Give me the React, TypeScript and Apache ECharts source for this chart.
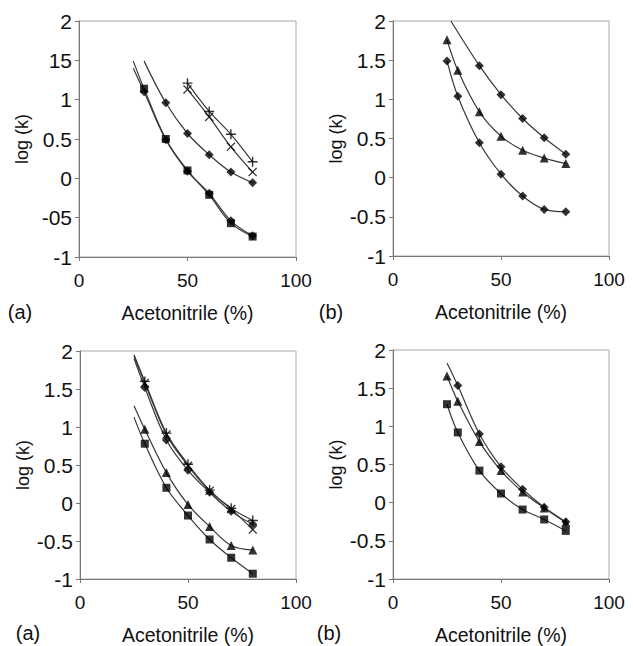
import React, { useEffect, useRef } from "react";
import * as echarts from "echarts";

// ---------- data ----------
const yTicksOdd = ["-1", "-05", "0", "0.5", "1", "15", "2"]; // top-left panel as printed
const yTicksStd = ["-1", "-0.5", "0", "0.5", "1", "1.5", "2"];
const xTicks = ["0", "50", "100"];
const panelLabels = ["(a)", "(b)", "(a)", "(b)"];
const xName = "Acetonitrile (%)";
const yName = "log (k)";

// Panel 1 (top-left)
const p1X6 = [30, 40, 50, 60, 70, 80];
const p1X5 = [40, 50, 60, 70, 80];
const p1X4 = [50, 60, 70, 80];
const p1Square = [1.14, 0.5, 0.1, -0.21, -0.57, -0.74];
const p1Square2 = [1.1, 0.49, 0.09, -0.19, -0.54, -0.73];
const p1Diamond = [0.96, 0.57, 0.3, 0.08, -0.055];
const p1Plus = [1.21, 0.85, 0.56, 0.21];
const p1Cross = [1.13, 0.78, 0.4, 0.08];
const p1SquareStart: [number, number] = [25, 1.49];
const p1Square2Start: [number, number] = [25, 1.4];
const p1DiamondStart: [number, number] = [30, 1.49];

// Panel 2 (top-right)
const p2X7 = [25, 30, 40, 50, 60, 70, 80];
const p2X5 = [40, 50, 60, 70, 80];
const p2DiamondHigh = [1.43, 1.06, 0.755, 0.51, 0.3];
const p2DiamondHighStart: [number, number] = [26.8, 2.0];
const p2Triangle = [1.76, 1.37, 0.84, 0.53, 0.35, 0.25, 0.18];
const p2DiamondLow = [1.49, 1.04, 0.445, 0.045, -0.235, -0.405, -0.435];

// Panel 3 (bottom-left)
const p3X6 = [30, 40, 50, 60, 70, 80];
const p3Diamond = [1.52, 0.83, 0.43, 0.14, -0.11, -0.28];
const p3Cross = [1.58, 0.9, 0.49, 0.16, -0.08, -0.35];
const p3Plus = [1.6, 0.92, 0.51, 0.17, -0.07, -0.23];
const p3Triangle = [0.97, 0.4, -0.02, -0.31, -0.56, -0.62];
const p3Square = [0.78, 0.2, -0.165, -0.48, -0.72, -0.93];
const p3DiamondStart: [number, number] = [25, 1.9];
const p3CrossStart: [number, number] = [25, 1.93];
const p3PlusStart: [number, number] = [25, 1.95];
const p3TriangleStart: [number, number] = [25, 1.28];
const p3SquareStart: [number, number] = [25, 1.13];

// Panel 4 (bottom-right)
const p4X7 = [25, 30, 40, 50, 60, 70, 80];
const p4X6 = [30, 40, 50, 60, 70, 80];
const p4Diamond = [1.535, 0.9, 0.47, 0.175, -0.06, -0.25];
const p4DiamondStart: [number, number] = [25, 1.83];
const p4Triangle = [1.66, 1.33, 0.8, 0.42, 0.14, -0.07, -0.26];
const p4Square = [1.29, 0.92, 0.42, 0.12, -0.09, -0.22, -0.37];

// ---------- styling ----------
const FONT = "'Liberation Sans', Arial, Helvetica, sans-serif";
const PLUS = "path://M4.3,0H5.7V4.3H10V5.7H5.7V10H4.3V5.7H0V4.3H4.3Z";
const CROSS = "path://M1,0L5,4L9,0L10,1L6,5L10,9L9,10L5,6L1,10L0,9L4,5L0,1Z";

type Def = {
  x: number[];
  y: number[];
  symbol: string;
  size: number;
  start?: [number, number];
};

const grids = [
  { left: 79, top: 21, width: 217, height: 236 },
  { left: 393, top: 21, width: 216, height: 235 },
  { left: 80, top: 351, width: 216, height: 236 },
  { left: 393, top: 350, width: 216, height: 237 },
];

const panels: Def[][] = [
  [
    { x: p1X6, y: p1Square2, symbol: "diamond", size: 9, start: p1Square2Start },
    { x: p1X6, y: p1Square, symbol: "rect", size: 8, start: p1SquareStart },
    { x: p1X5, y: p1Diamond, symbol: "diamond", size: 9, start: p1DiamondStart },
    { x: p1X4, y: p1Plus, symbol: PLUS, size: 10 },
    { x: p1X4, y: p1Cross, symbol: CROSS, size: 9 },
  ],
  [
    { x: p2X5, y: p2DiamondHigh, symbol: "diamond", size: 9, start: p2DiamondHighStart },
    { x: p2X7, y: p2Triangle, symbol: "triangle", size: 9 },
    { x: p2X7, y: p2DiamondLow, symbol: "diamond", size: 9 },
  ],
  [
    { x: p3X6, y: p3Diamond, symbol: "diamond", size: 9, start: p3DiamondStart },
    { x: p3X6, y: p3Cross, symbol: CROSS, size: 9, start: p3CrossStart },
    { x: p3X6, y: p3Plus, symbol: PLUS, size: 10, start: p3PlusStart },
    { x: p3X6, y: p3Triangle, symbol: "triangle", size: 9, start: p3TriangleStart },
    { x: p3X6, y: p3Square, symbol: "rect", size: 8, start: p3SquareStart },
  ],
  [
    { x: p4X6, y: p4Diamond, symbol: "diamond", size: 9, start: p4DiamondStart },
    { x: p4X7, y: p4Triangle, symbol: "triangle", size: 9 },
    { x: p4X7, y: p4Square, symbol: "rect", size: 8 },
  ],
];

const labelPos = [
  [20, 312],
  [331, 312],
  [28, 633],
  [329, 633],
];

function buildOption() {
  const series: any[] = [];
  panels.forEach((defs, gi) => {
    defs.forEach((d) => {
      const pts = d.x.map((xv, i) => [xv, d.y[i]]);
      const curve = d.start ? [d.start, ...pts] : pts;
      series.push({
        type: "line",
        xAxisIndex: gi,
        yAxisIndex: gi,
        data: curve,
        smooth: 0.35,
        showSymbol: false,
        symbol: "none",
        lineStyle: { color: "#383838", width: 1.2 },
        silent: true,
        z: 2,
      });
      series.push({
        type: "scatter",
        xAxisIndex: gi,
        yAxisIndex: gi,
        data: pts,
        symbol: d.symbol,
        symbolSize: d.size,
        itemStyle: { color: "#000" },
        z: 3,
      });
    });
  });

  const xAxis = grids.map((_, gi) => ({
    type: "value",
    gridIndex: gi,
    min: 0,
    max: 100,
    interval: 50,
    name: xName,
    nameLocation: "middle",
    nameGap: 46,
    nameTextStyle: { fontFamily: FONT, fontSize: 19.5, color: "#111" },
    axisLine: { show: true, onZero: false, lineStyle: { color: "#777", width: 1 } },
    axisTick: { show: true, inside: false, length: 4, lineStyle: { color: "#777" } },
    axisLabel: {
      fontFamily: FONT,
      fontSize: 19,
      color: "#111",
      margin: 14,
      formatter: (v: number) => xTicks[Math.round(v / 50)],
    },
    splitLine: { show: false },
  }));

  const yAxis = grids.map((_, gi) => ({
    type: "value",
    gridIndex: gi,
    min: -1,
    max: 2,
    interval: 0.5,
    name: yName,
    nameLocation: "middle",
    nameGap: 48,
    nameTextStyle: { fontFamily: FONT, fontSize: 18, color: "#111" },
    axisLine: { show: true, onZero: false, lineStyle: { color: "#777", width: 1 } },
    axisTick: { show: true, inside: false, length: 4, lineStyle: { color: "#777" } },
    axisLabel: {
      fontFamily: FONT,
      fontSize: 21,
      color: "#111",
      margin: 7,
      formatter: (v: number) =>
        (gi === 0 ? yTicksOdd : yTicksStd)[Math.round((v + 1) / 0.5)],
    },
    splitLine: { show: false },
  }));

  return {
    animation: false,
    backgroundColor: "#fff",
    grid: grids.map((g) => ({
      ...g,
      show: true,
      borderColor: "#aaa",
      borderWidth: 1,
      backgroundColor: "transparent",
    })),
    xAxis,
    yAxis,
    series,
    graphic: labelPos.map((p, i) => ({
      type: "text",
      x: p[0],
      y: p[1],
      style: {
        text: panelLabels[i],
        fontFamily: FONT,
        fontSize: 20,
        fill: "#111",
        textAlign: "center",
        textVerticalAlign: "middle",
      },
    })),
  };
}

export default function App() {
  const ref = useRef<HTMLDivElement>(null);
  useEffect(() => {
    if (!ref.current) return;
    const chart = echarts.init(ref.current, undefined, { renderer: "svg" });
    chart.setOption(buildOption() as any);
    return () => chart.dispose();
  }, []);
  return (
    <div
      ref={ref}
      style={{
        position: "fixed",
        left: 0,
        top: 0,
        width: 633,
        height: 646,
        background: "#fff",
      }}
    />
  );
}
